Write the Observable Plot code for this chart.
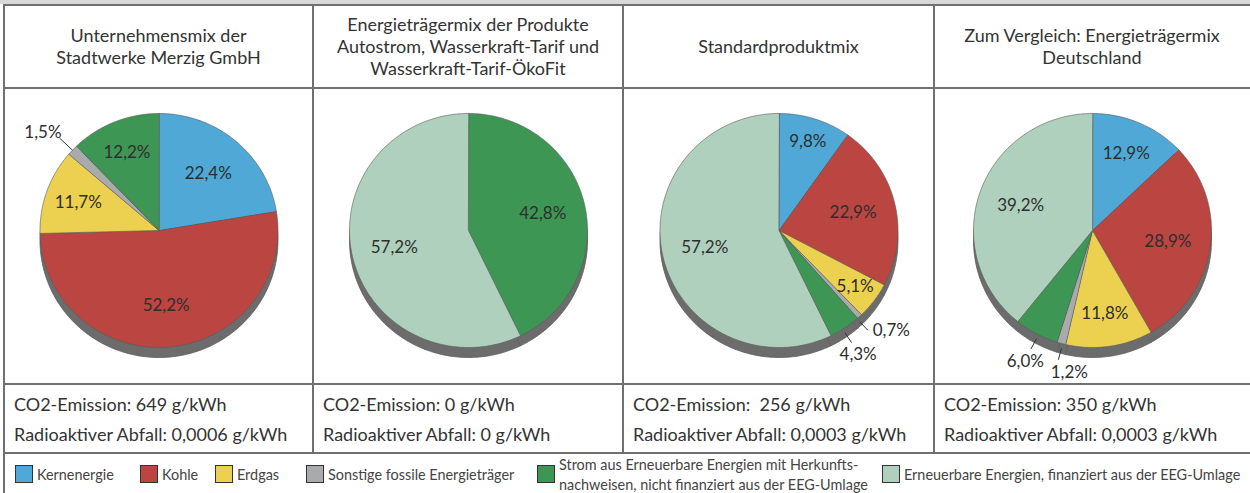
<!DOCTYPE html>
<html><head><meta charset="utf-8">
<script src="https://cdn.jsdelivr.net/npm/d3@7"></script>
<script src="https://cdn.jsdelivr.net/npm/@observablehq/plot@0.6"></script>
<style>
body{margin:0;background:#fff;font-family:Lato,"Open Sans",sans-serif;color:#333;}
#fig{position:relative;width:1250px;height:493px;overflow:hidden;background:#fff}
.band{position:absolute;left:0;top:0;width:1250px;height:4px;background:#d9d9d9}
.hl{position:absolute;left:3px;width:1247px;height:1.5px;background:#707070}
.vl{position:absolute;width:1.5px;background:#707070}
.head{position:absolute;top:5px;height:82px;display:flex;align-items:center;justify-content:center;text-align:center;font-size:18px;line-height:22px}
.pie{position:absolute;top:88px;height:295px}
.foot{position:absolute;top:384px;height:68px;padding:5px 0 0 10px;box-sizing:border-box;font-size:18px;line-height:30px;white-space:pre}
.item{position:absolute;top:454px;height:39px;display:flex;align-items:center;font-family:Lato,sans-serif;font-size:16px;color:#444;line-height:20px;white-space:nowrap}
.sw{width:16px;height:16px;border:1px solid #333;margin-right:4px;flex:none;margin-top:1px}
.lt{transform:scaleX(0.9);transform-origin:0 50%}
</style></head>
<body><div id="fig"></div>
<script>
// ---- data ----
const categories = ["Kernenergie","Kohle","Erdgas","Sonstige fossile Energieträger","Strom aus Erneuerbare Energien mit Herkunftsnachweisen, nicht finanziert aus der EEG-Umlage","Erneuerbare Energien, finanziert aus der EEG-Umlage"];
const legendLabels = ["Kernenergie","Kohle","Erdgas","Sonstige fossile Energieträger","Strom aus Erneuerbare Energien mit Herkunfts-<br>nachweisen, nicht finanziert aus der EEG-Umlage","Erneuerbare Energien, finanziert aus der EEG-Umlage"];
const colors = ["#4fa8d6","#ba4541","#ecd04f","#a9aaac","#3e9654","#b0d0be"];
const panelTitles = [
  ["Unternehmensmix der","Stadtwerke Merzig GmbH"],
  ["Energieträgermix der Produkte","Autostrom, Wasserkraft-Tarif und","Wasserkraft-Tarif-ÖkoFit"],
  ["Standardproduktmix"],
  ["Zum Vergleich: Energieträgermix","Deutschland"]
];
const mixUnternehmen = [22.4, 52.2, 11.7, 1.5, 12.2, 0];
const mixProdukte    = [0, 0, 0, 0, 42.8, 57.2];
const mixStandard    = [9.8, 22.9, 5.1, 0.7, 4.3, 57.2];
const mixDeutschland = [12.9, 28.9, 11.8, 1.2, 6.0, 39.2];
const co2Emission = ["649", "0", " 256", "350"];
const radioaktiverAbfall = ["0,0006", "0", "0,0003", "0,0003"];

// ---- layout ----
const fig = document.getElementById("fig");
const colX = [4, 313, 623, 934], colW = [309, 310, 311, 316];
const legendX = [15, 140, 215, 306, 537, 882];
const RX = 119, RY = 117, DEPTH = 10, CY = 142;
const mixes = [mixUnternehmen, mixProdukte, mixStandard, mixDeutschland];

function add(cls, style, html) {
  const d = document.createElement("div");
  d.className = cls; Object.assign(d.style, style);
  if (html != null) d.innerHTML = html;
  fig.appendChild(d); return d;
}
add("band", {});
[4, 87, 383, 452].forEach(y => add("hl", {top: y + "px"}));
add("vl", {left: "3px", top: "4px", height: "489px"});
colX.slice(1).forEach(x => add("vl", {left: (x - 1) + "px", top: "4px", height: "449px"}));

const fmt = v => v.toFixed(1).replace(".", ",") + "%";

function slices(values) {
  const total = d3.sum(values);
  let acc = 0; const out = [];
  values.forEach((v, i) => {
    if (v <= 0) return;
    out.push({cat: categories[i], v, a0: acc / total * 2 * Math.PI, a1: (acc + v) / total * 2 * Math.PI});
    acc += v;
  });
  return out;
}
function polygon(s, dy) {
  const pts = [{x: 0, y: dy}];
  const n = Math.max(2, Math.ceil((s.a1 - s.a0) / 0.02));
  for (let k = 0; k <= n; k++) {
    const a = s.a0 + (s.a1 - s.a0) * k / n;
    pts.push({x: Math.sin(a), y: Math.cos(a) + dy});
  }
  return pts.map(p => ({...p, cat: s.cat}));
}

mixes.forEach((mix, p) => {
  add("head", {left: colX[p] + "px", width: colW[p] + "px"}, panelTitles[p].join("<br>"));
  add("foot", {left: colX[p] + "px", width: colW[p] + "px"},
    `CO2-Emission: ${co2Emission[p]} g/kWh\nRadioaktiver Abfall: ${radioaktiverAbfall[p]} g/kWh`);

  const sl = slices(mix);
  const dz = -DEPTH / RY;
  const side = sl.flatMap(s => polygon(s, dz));
  const top = sl.flatMap(s => polygon(s, 0));
  const inside = [], outside = [], leaders = [];
  sl.forEach(s => {
    const m = (s.a0 + s.a1) / 2, deg = m * 180 / Math.PI;
    const sn = Math.sin(m), cs = Math.cos(m);
    const out = s.v < 2 || (s.v < 7 && deg > 140 && deg < 220);
    if (!out) {
      const r = s.v >= 20 ? 0.64 : s.v >= 10 ? 0.72 : 0.8;
      inside.push({x: r * sn, y: r * cs, t: fmt(s.v)});
    } else {
      const bottom = cs < 0;
      const y0 = bottom ? cs + dz * 0.5 : cs;
      const re = bottom ? 1.1 : 1.15;
      leaders.push({x1: sn, y1: y0, x2: re * sn, y2: re * cs + (bottom ? dz * 0.5 : 0)});
      if (Math.abs(sn) > 0.6) {
        outside.push({x: re * sn, y: re * cs, t: fmt(s.v), anchor: sn > 0 ? "start" : "end"});
      } else {
        outside.push({x: 1.2 * sn, y: 1.2 * cs + dz * 0.5, t: fmt(s.v), anchor: "middle"});
      }
    }
  });
  // keep centred outside labels from overlapping: move the inner one toward the centre
  const mids = outside.filter(d => d.anchor === "middle");
  for (let i = 0; i < mids.length; i++) for (let j = i + 1; j < mids.length; j++) {
    const a = mids[i], b = mids[j];
    const gap = 44 / RX;
    if (Math.abs(a.y - b.y) * RY < 16 && Math.abs(a.x - b.x) < gap) {
      const [inner, outer] = Math.abs(a.x) < Math.abs(b.x) ? [a, b] : [b, a];
      inner.x = outer.x + Math.sign(inner.x - outer.x || -outer.x) * gap;
    }
  }
  const cx = colW[p] / 2 - 1;
  const txt = {x: "x", y: "y", text: "t", fontSize: 17, fill: "#2e2e2e", fontFamily: "Lato"};
  const chart = Plot.plot({
    width: colW[p] - 2, height: 295, margin: 0,
    x: {domain: [-1, 1], range: [cx - RX, cx + RX], axis: null},
    y: {domain: [-1, 1], range: [CY + RY, CY - RY], axis: null},
    color: {domain: categories, range: colors},
    style: {background: "transparent", overflow: "visible"},
    marks: [
      Plot.line(side, {x: "x", y: "y", z: "cat", fill: "#6c6c6c", stroke: "#5c5c5c", strokeWidth: 0.8, curve: "linear-closed"}),
      Plot.line(top, {x: "x", y: "y", z: "cat", fill: "cat", stroke: "#5a5a5a", strokeWidth: 0.6, curve: "linear-closed"}),
      Plot.link(leaders, {x1: "x1", y1: "y1", x2: "x2", y2: "y2", stroke: "#333", strokeWidth: 1}),
      Plot.text(inside, txt),
      Plot.text(outside.filter(d => d.anchor === "start"), {...txt, textAnchor: "start", dx: 5, dy: 5}),
      Plot.text(outside.filter(d => d.anchor === "end"), {...txt, textAnchor: "end", dx: 2, dy: -6}),
      Plot.text(mids, {...txt, dy: 2})
    ]
  });
  const holder = add("pie", {left: (colX[p] + 1) + "px", width: (colW[p] - 2) + "px"});
  holder.appendChild(chart);
});

// legend
categories.forEach((c, i) => {
  add("item", {left: legendX[i] + "px"},
    `<div class="sw" style="background:${colors[i]}"></div><div class="lt">${legendLabels[i]}</div>`);
});
</script>
</body></html>
